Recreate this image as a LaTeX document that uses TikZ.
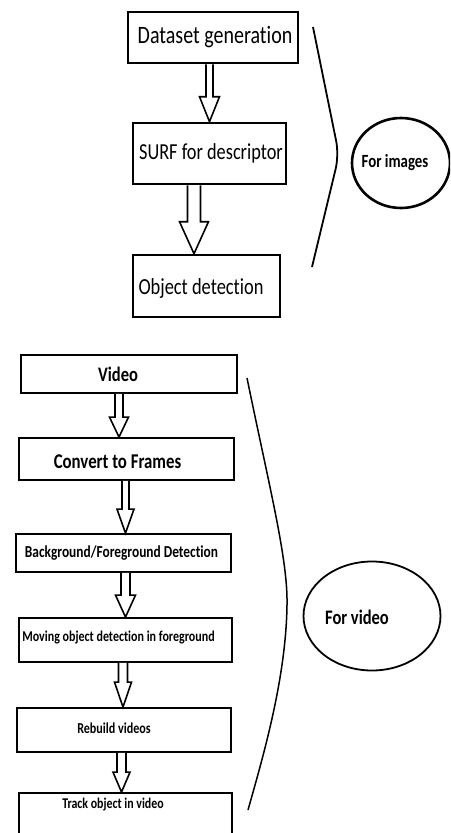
\documentclass[tikz,border=0pt]{standalone}
\usepackage{fontspec}
\setmainfont{Carlito}[Ligatures=NoCommon]
\usetikzlibrary{shapes.geometric,calc}

\newcommand{\tall}[1]{\scalebox{1}[1.25]{#1}}
\newcommand{\fs}[1]{\fontsize{#1}{#1}\selectfont}

\tikzset{
  imgbox/.style={draw, line width=2.6pt, inner sep=0pt},
  vidbox/.style={draw, line width=1.8pt, inner sep=0pt},
  hollow/.style={draw, line width=1.6pt, fill=white, line join=miter},
  brace/.style={line width=1.8pt},
  oval/.style={draw, ellipse, inner sep=0pt}
}

% hollow block arrow: from, to, x, shaft half width, head half width, head length
\newcommand{\hollowarrow}[6]{%
  \draw[hollow] let \p1=(#1.south), \p2=(#2.north) in
    ({(#3-#4)*1pt},\y1) -- ({(#3-#4)*1pt},{\y2+#6pt}) -- ({(#3-#5)*1pt},{\y2+#6pt})
    -- ({#3*1pt},\y2) -- ({(#3+#5)*1pt},{\y2+#6pt}) -- ({(#3+#4)*1pt},{\y2+#6pt})
    -- ({(#3+#4)*1pt},\y1);}

\begin{document}
\begin{tikzpicture}[x=1pt, y=-1pt]
\useasboundingbox (0,0) rectangle (450,833);
\clip (0,0) rectangle (450,833);

% images part
\node[imgbox, minimum width=170pt, minimum height=51pt,
  label={[font=\fs{20}, xshift=2pt]center:\tall{Dataset generation}}] (data) at (213,37.5) {};
\node[imgbox, minimum width=153pt, minimum height=61pt,
  label={[font=\fs{18.3}, xshift=1.5pt]center:\tall{SURF for descriptor}}] (surf) at (209.5,153.5) {};
\node[imgbox, minimum width=147pt, minimum height=62pt,
  label={[font=\fs{18.4}, xshift=-5.5pt, yshift=-2pt]center:\tall{Object detection}}] (objdet) at (206.5,286) {};

\hollowarrow{data}{surf}{209.5}{3.5}{10}{25}
\hollowarrow{surf}{objdet}{194}{6.5}{14.5}{32}

\coordinate (imgtop) at (313,27);
\coordinate (imgtip) at (339,155);
\coordinate (imgbot) at (312,267);
\draw[brace, rounded corners=14pt] (imgtop) -- (imgtip) -- (imgbot);

\node[oval, line width=2.6pt, minimum width=98pt, minimum height=90pt,
  label={[font=\bfseries\fs{14.9}, xshift=-6pt]center:\tall{For images}}] (imgoval) at (401,163) {};

% video part
\node[vidbox, minimum width=216pt, minimum height=38pt,
  label={[font=\bfseries\fs{16.5}, xshift=-11pt]center:\tall{Video}}] (video) at (129,374) {};
\node[vidbox, minimum width=215pt, minimum height=42pt,
  label={[font=\bfseries\fs{16.8}, xshift=-9pt, yshift=-3pt]center:\tall{Convert to Frames}}] (frames) at (126.5,459) {};
\node[vidbox, minimum width=215pt, minimum height=38pt,
  label={[font=\bfseries\fs{13.4}, xshift=-2pt]center:\tall{Background/Foreground Detection}}] (bgfg) at (123.5,553) {};
\node[vidbox, minimum width=213pt, minimum height=44pt,
  label={[font=\bfseries\fs{12}, xshift=-7pt, yshift=2pt]center:\tall{Moving object detection in foreground}}] (moving) at (125.5,640) {};
\node[vidbox, minimum width=214pt, minimum height=44pt,
  label={[font=\bfseries\fs{12.1}, xshift=-10pt, yshift=2pt]center:\tall{Rebuild videos}}] (rebuild) at (124,730) {};
\node[vidbox, minimum width=213pt, minimum height=60pt,
  label={[font=\bfseries\fs{11.9}, xshift=-12.5pt, yshift=18pt]center:\tall{Track object in video}}] (track) at (125.5,823) {};

\hollowarrow{video}{frames}{119}{4}{9.5}{20}
\hollowarrow{frames}{bgfg}{125.5}{3.5}{8.5}{24}
\hollowarrow{bgfg}{moving}{125.5}{4.5}{10}{22}
\hollowarrow{moving}{rebuild}{123}{4.5}{8.5}{25}
\hollowarrow{rebuild}{track}{121.5}{4.5}{8.5}{20}

\coordinate (vidtop) at (247,378);
\coordinate (vidtip) at (287,605);
\coordinate (vidbot) at (248,810);
\draw[line width=1.5pt] (vidtop) .. controls (270,490) and (288,560) .. (vidtip)
  .. controls (286,680) and (262,760) .. (vidbot);

\node[oval, line width=1.8pt, minimum width=137pt, minimum height=109pt,
  label={[font=\bfseries\fs{16.5}, xshift=-15pt, yshift=-1pt]center:\tall{For video}}] (vidoval) at (372,616) {};
\end{tikzpicture}
\end{document}
